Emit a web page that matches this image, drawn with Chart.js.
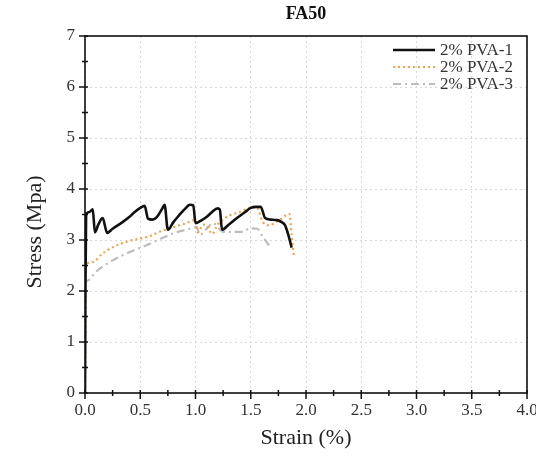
<!DOCTYPE html>
<html>
<head>
<meta charset="utf-8">
<script src="https://cdn.jsdelivr.net/npm/chart.js@4/dist/chart.umd.min.js"></script>
<style>
html,body{margin:0;padding:0;overflow:hidden;background:#fff;}
canvas{display:block;}
</style>
</head>
<body>
<canvas id="c" width="545" height="463"></canvas>
<script>
// ---- data ----
const chartTitle = "FA50";
const xTitle = "Strain (%)";
const yTitle = "Stress (Mpa)";
const seriesLabels = ["2% PVA-1", "2% PVA-2", "2% PVA-3"];

const strain1 = [0, 0.003, 0.01, 0.04, 0.07, 0.09, 0.12, 0.16, 0.2, 0.25, 0.34, 0.4, 0.45, 0.5, 0.54, 0.57, 0.61, 0.65, 0.7, 0.72, 0.75, 0.8, 0.85, 0.9, 0.95, 0.98, 1.0, 1.05, 1.1, 1.15, 1.2, 1.22, 1.24, 1.3, 1.375, 1.45, 1.5, 1.55, 1.59, 1.63, 1.68, 1.74, 1.78, 1.81, 1.84, 1.87];
const stress1 = [0, 1.8, 3.5, 3.55, 3.6, 3.15, 3.3, 3.43, 3.14, 3.22, 3.35, 3.45, 3.55, 3.63, 3.67, 3.42, 3.4, 3.45, 3.62, 3.69, 3.2, 3.35, 3.48, 3.6, 3.69, 3.68, 3.33, 3.38, 3.45, 3.55, 3.62, 3.6, 3.2, 3.3, 3.43, 3.55, 3.63, 3.65, 3.65, 3.43, 3.4, 3.39, 3.35, 3.29, 3.1, 2.85];

const strain2 = [0, 0.003, 0.005, 0.07, 0.15, 0.25, 0.4, 0.56, 0.7, 0.77, 0.9, 1.0, 1.02, 1.07, 1.1, 1.15, 1.2, 1.28, 1.4, 1.49, 1.55, 1.61, 1.66, 1.76, 1.85, 1.87, 1.89];
const stress2 = [0, 1.2, 2.5, 2.57, 2.72, 2.86, 2.98, 3.06, 3.18, 3.23, 3.32, 3.39, 3.15, 3.3, 3.28, 3.12, 3.3, 3.45, 3.55, 3.63, 3.65, 3.35, 3.29, 3.39, 3.51, 3.1, 2.67];

const strain3 = [0, 0.003, 0.005, 0.02, 0.1, 0.25, 0.4, 0.56, 0.7, 0.8, 0.95, 1.01, 1.04, 1.1, 1.16, 1.25, 1.31, 1.43, 1.49, 1.56, 1.61, 1.67];
const stress3 = [0, 1.0, 2.15, 2.2, 2.38, 2.6, 2.76, 2.9, 3.04, 3.13, 3.22, 3.25, 3.1, 3.22, 3.33, 3.16, 3.16, 3.16, 3.23, 3.22, 3.06, 2.88];

const xTicksMax = 4, xStep = 0.5;
const yTicksMax = 7, yStep = 1;

function pts(xs, ys){ return xs.map((x,i)=>({x:x, y:ys[i]})); }

const SERIF = "'Liberation Serif', 'Times New Roman', serif";

const framePlugin = {
  id: 'frameTicks',
  afterDraw(chart){
    const {ctx, chartArea:a, scales:{x, y}} = chart;
    ctx.save();
    ctx.strokeStyle = '#111';
    ctx.lineWidth = 1.6;
    ctx.strokeRect(a.left, a.top, a.right - a.left, a.bottom - a.top);
    ctx.lineWidth = 1.5;
    ctx.beginPath();
    for (let v = 0; v <= xTicksMax + 1e-9; v += xStep/2) {
      const px = x.getPixelForValue(v);
      const major = Math.abs(v/xStep - Math.round(v/xStep)) < 1e-6;
      ctx.moveTo(px, a.bottom - 3);
      ctx.lineTo(px, a.bottom + (major ? 6 : 3));
    }
    for (let v = 0; v <= yTicksMax + 1e-9; v += yStep/2) {
      const py = y.getPixelForValue(v);
      const major = Math.abs(v/yStep - Math.round(v/yStep)) < 1e-6;
      ctx.moveTo(a.left + 3, py);
      ctx.lineTo(a.left - (major ? 6 : 3), py);
    }
    ctx.stroke();

    // y-axis title
    ctx.save();
    ctx.translate(35, 232);
    ctx.rotate(-Math.PI/2);
    ctx.font = "22px " + SERIF;
    ctx.fillStyle = '#222';
    ctx.textAlign = 'center';
    ctx.textBaseline = 'middle';
    ctx.fillText(yTitle, 0, 0);
    ctx.restore();

    // legend, inside the plot, top right
    const ds = chart.data.datasets;
    const rowY = [50, 67, 84];
    ctx.font = "17px " + SERIF;
    ctx.textBaseline = 'middle';
    ctx.textAlign = 'left';
    ds.forEach((d, i) => {
      const yy = rowY[i];
      ctx.strokeStyle = d.borderColor;
      ctx.lineWidth = d.borderWidth;
      ctx.setLineDash(d.borderDash || []);
      ctx.beginPath();
      ctx.moveTo(393, yy);
      ctx.lineTo(435, yy);
      ctx.stroke();
      ctx.setLineDash([]);
      ctx.fillStyle = '#333';
      ctx.fillText(d.label, 440, yy + 1);
    });
    ctx.restore();
  }
};

new Chart(document.getElementById('c'), {
  type: 'line',
  data: {
    datasets: [
      { label: seriesLabels[0], data: pts(strain1, stress1), borderColor: '#111111', borderWidth: 2.6, borderDash: [], pointRadius: 0, cubicInterpolationMode: 'monotone', fill: false },
      { label: seriesLabels[1], data: pts(strain2, stress2), borderColor: '#f5a14c', borderWidth: 2.2, borderDash: [2, 3], pointRadius: 0, cubicInterpolationMode: 'monotone', fill: false },
      { label: seriesLabels[2], data: pts(strain3, stress3), borderColor: '#bdbdbd', borderWidth: 2.2, borderDash: [8, 4, 2, 4], pointRadius: 0, cubicInterpolationMode: 'monotone', fill: false }
    ]
  },
  options: {
    responsive: false,
    animation: false,
    devicePixelRatio: 1,
    layout: { padding: { left: 0, right: 18, top: 0, bottom: 0 } },
    plugins: {
      legend: { display: false },
      tooltip: { enabled: false },
      title: {
        display: true, text: chartTitle, fullSize: false,
        color: '#111',
        font: { family: SERIF, size: 18, weight: 'bold', lineHeight: 1.2 },
        padding: { top: 4, bottom: 10.4 }
      }
    },
    scales: {
      x: {
        type: 'linear', min: 0, max: xTicksMax,
        ticks: { stepSize: xStep, callback: v => v.toFixed(1), color: '#333', font: { family: SERIF, size: 17 }, padding: 7, maxRotation: 0, autoSkip: false },
        grid: { color: '#d8d8d8', lineWidth: 1, drawTicks: false },
        border: { display: false, dash: [2, 3] },
        title: { display: true, text: xTitle, color: '#222', font: { family: SERIF, size: 22 }, padding: { top: 0, bottom: 11.8 } },
        afterFit(s){ s.height = 70; }
      },
      y: {
        type: 'linear', min: 0, max: yTicksMax,
        ticks: { stepSize: yStep, color: '#333', font: { family: SERIF, size: 17 }, padding: 10 },
        grid: { color: '#d8d8d8', lineWidth: 1, drawTicks: false },
        border: { display: false, dash: [2, 3] },
        title: { display: false },
        afterFit(s){ s.width = 85; }
      }
    }
  },
  plugins: [framePlugin]
});
</script>
</body>
</html>
